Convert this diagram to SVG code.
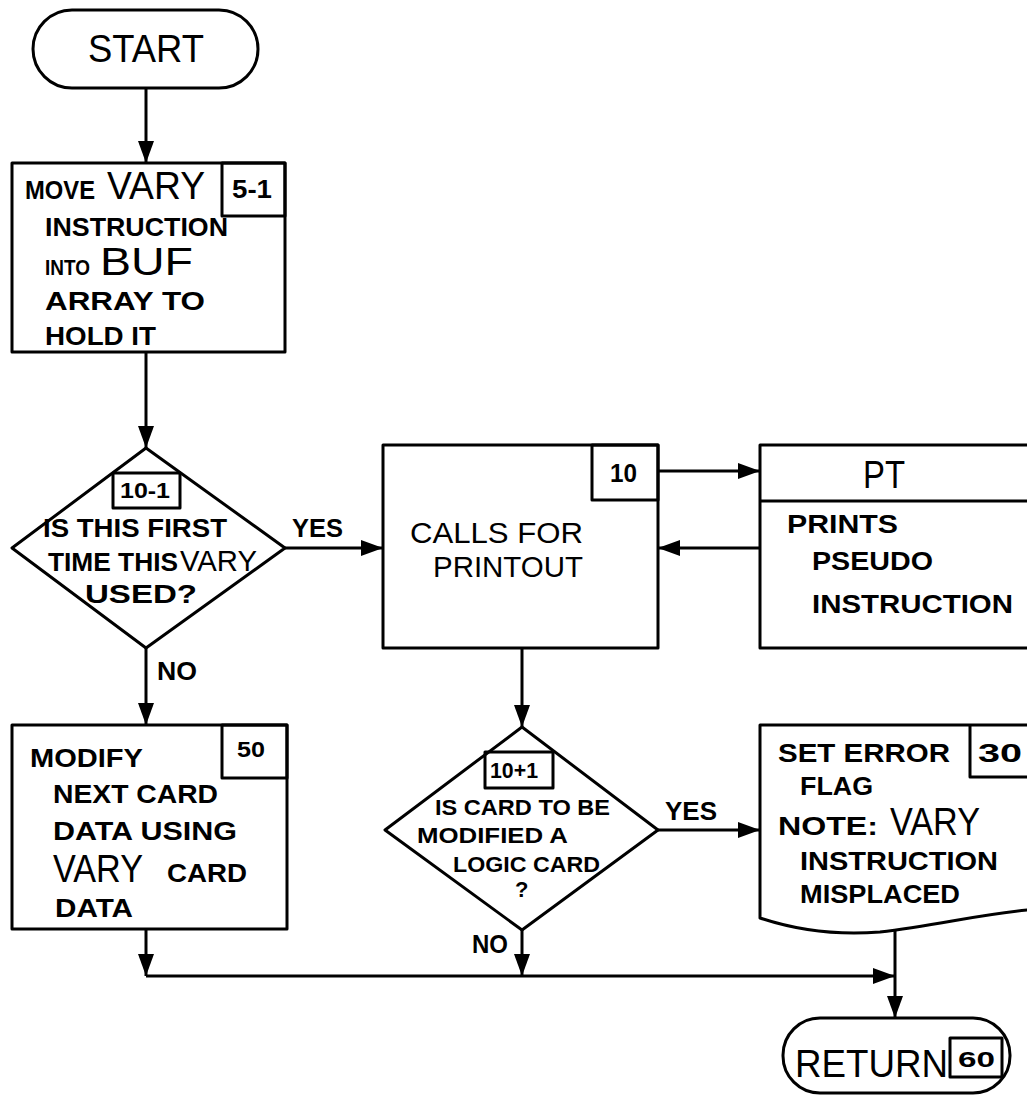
<svg xmlns="http://www.w3.org/2000/svg" width="1027" height="1097" viewBox="0 0 1027 1097">
<defs>
<style>
.s{fill:none;stroke:#000;stroke-width:3;stroke-linejoin:round}
.w{fill:#fff;stroke:#000;stroke-width:3;stroke-linejoin:round}
.c{fill:none;stroke:#000;stroke-width:3}
text{font-family:"Liberation Sans",Arial,sans-serif;fill:#000;font-weight:bold}
.t{font-size:25px}
.sm{font-size:22px}
.lg{font-size:38px;font-weight:normal}
.md{font-size:30px;font-weight:normal}
</style>
<marker id="ah" viewBox="0 0 22 16" refX="22" refY="8" markerWidth="22" markerHeight="16" markerUnits="userSpaceOnUse" orient="auto">
<path d="M0,0 L22,8 L0,16 z" fill="#000"/>
</marker>
</defs>
<rect width="1027" height="1097" fill="#fff"/>

<g id="connectors">
<line class="c" x1="146" y1="88" x2="146" y2="163" marker-end="url(#ah)"/>
<line class="c" x1="146" y1="352" x2="146" y2="448" marker-end="url(#ah)"/>
<line class="c" x1="285" y1="548" x2="383" y2="548" marker-end="url(#ah)"/>
<line class="c" x1="146" y1="648" x2="146" y2="725" marker-end="url(#ah)"/>
<line class="c" x1="658" y1="471" x2="760" y2="471" marker-end="url(#ah)"/>
<line class="c" x1="760" y1="548" x2="658" y2="548" marker-end="url(#ah)"/>
<line class="c" x1="522" y1="648" x2="522" y2="727" marker-end="url(#ah)"/>
<line class="c" x1="658" y1="830" x2="760" y2="830" marker-end="url(#ah)"/>
<line class="c" x1="146" y1="929" x2="146" y2="976" marker-end="url(#ah)"/>
<line class="c" x1="522" y1="930" x2="522" y2="976" marker-end="url(#ah)"/>
<line class="c" x1="146" y1="976" x2="895" y2="976" marker-end="url(#ah)"/>
<line class="c" x1="895" y1="926" x2="895" y2="1018" marker-end="url(#ah)"/>
<text class="t" x="292" y="537" textLength="51" lengthAdjust="spacingAndGlyphs">YES</text>
<text class="t" x="157" y="680" textLength="40" lengthAdjust="spacingAndGlyphs">NO</text>
<text class="t" x="665" y="820" textLength="52" lengthAdjust="spacingAndGlyphs">YES</text>
<text class="t" x="472" y="953" textLength="36" lengthAdjust="spacingAndGlyphs">NO</text>
</g>

<g id="start">
<rect class="w" x="33" y="10" width="225" height="78" rx="39"/>
<text class="lg" x="88" y="62" textLength="116" lengthAdjust="spacingAndGlyphs">START</text>
</g>

<g id="n5-1">
<rect class="w" x="12" y="163" width="273" height="189"/>
<rect class="s" x="222" y="163" width="63" height="53"/>
<text class="t" x="232" y="198" textLength="40" lengthAdjust="spacingAndGlyphs">5-1</text>
<text class="t" x="25" y="199" textLength="70" lengthAdjust="spacingAndGlyphs">MOVE</text>
<text class="lg" x="107" y="199" textLength="98" lengthAdjust="spacingAndGlyphs">VARY</text>
<text class="t" x="45" y="236" textLength="183" lengthAdjust="spacingAndGlyphs">INSTRUCTION</text>
<text class="sm" x="45" y="275" textLength="45" lengthAdjust="spacingAndGlyphs">INTO</text>
<text class="lg" x="100" y="275" textLength="93" lengthAdjust="spacingAndGlyphs">BUF</text>
<text class="t" x="45" y="310" textLength="160" lengthAdjust="spacingAndGlyphs">ARRAY TO</text>
<text class="t" x="45" y="345" textLength="111" lengthAdjust="spacingAndGlyphs">HOLD IT</text>
</g>

<g id="n10-1">
<polygon class="w" points="146,448 285,548 146,648 12,548"/>
<rect class="s" x="113" y="473" width="67" height="35"/>
<text class="sm" x="120" y="498" textLength="50" lengthAdjust="spacingAndGlyphs">10-1</text>
<text class="t" x="43" y="537" textLength="184" lengthAdjust="spacingAndGlyphs">IS THIS FIRST</text>
<text class="t" x="48" y="571" textLength="130" lengthAdjust="spacingAndGlyphs">TIME THIS</text>
<text class="md" x="180" y="571" textLength="77" lengthAdjust="spacingAndGlyphs">VARY</text>
<text class="t" x="85" y="603" textLength="112" lengthAdjust="spacingAndGlyphs">USED?</text>
</g>

<g id="n10">
<rect class="w" x="383" y="445" width="275" height="203"/>
<rect class="s" x="592" y="445" width="66" height="55"/>
<text class="t" x="610" y="482" textLength="27" lengthAdjust="spacingAndGlyphs">10</text>
<text class="md" x="410" y="543" textLength="173" lengthAdjust="spacingAndGlyphs">CALLS FOR</text>
<text class="md" x="433" y="577" textLength="150" lengthAdjust="spacingAndGlyphs">PRINTOUT</text>
</g>

<g id="pt">
<rect class="w" x="760" y="445" width="280" height="203"/>
<line class="c" x1="760" y1="501" x2="1040" y2="501"/>
<text class="lg" x="863" y="488" textLength="42" lengthAdjust="spacingAndGlyphs">PT</text>
<text class="t" x="787" y="533" textLength="111" lengthAdjust="spacingAndGlyphs">PRINTS</text>
<text class="t" x="812" y="570" textLength="121" lengthAdjust="spacingAndGlyphs">PSEUDO</text>
<text class="t" x="812" y="613" textLength="201" lengthAdjust="spacingAndGlyphs">INSTRUCTION</text>
</g>

<g id="n50">
<rect class="w" x="12" y="725" width="275" height="204"/>
<rect class="s" x="222" y="725" width="65" height="53"/>
<text class="sm" x="237" y="757" textLength="28" lengthAdjust="spacingAndGlyphs">50</text>
<text class="t" x="30" y="767" textLength="113" lengthAdjust="spacingAndGlyphs">MODIFY</text>
<text class="t" x="53" y="803" textLength="165" lengthAdjust="spacingAndGlyphs">NEXT CARD</text>
<text class="t" x="53" y="840" textLength="184" lengthAdjust="spacingAndGlyphs">DATA USING</text>
<text class="lg" x="53" y="882" textLength="90" lengthAdjust="spacingAndGlyphs">VARY</text>
<text class="t" x="167" y="882" textLength="80" lengthAdjust="spacingAndGlyphs">CARD</text>
<text class="t" x="55" y="917" textLength="78" lengthAdjust="spacingAndGlyphs">DATA</text>
</g>

<g id="n10p1">
<polygon class="w" points="522,727 658,830 522,930 385,830"/>
<rect class="s" x="485" y="752" width="68" height="36"/>
<text class="sm" x="490" y="778" textLength="48" lengthAdjust="spacingAndGlyphs">10+1</text>
<text class="sm" x="435" y="815" textLength="175" lengthAdjust="spacingAndGlyphs">IS CARD TO BE</text>
<text class="sm" x="417" y="843" textLength="151" lengthAdjust="spacingAndGlyphs">MODIFIED A</text>
<text class="sm" x="453" y="872" textLength="147" lengthAdjust="spacingAndGlyphs">LOGIC CARD</text>
<text class="sm" x="515" y="897" font-size="18">?</text>
</g>

<g id="n30">
<path class="w" d="M760,725 L1040,725 L1040,909 C990,912 940,925 880,932 C830,936 790,928 760,918 Z"/>
<path class="s" d="M1040,777 L970,777 L970,725"/>
<text class="t" x="978" y="762" textLength="44" lengthAdjust="spacingAndGlyphs">30</text>
<text class="t" x="778" y="762" textLength="172" lengthAdjust="spacingAndGlyphs">SET ERROR</text>
<text class="t" x="800" y="795" textLength="73" lengthAdjust="spacingAndGlyphs">FLAG</text>
<text class="t" x="778" y="835" textLength="100" lengthAdjust="spacingAndGlyphs">NOTE:</text>
<text class="lg" x="890" y="835" textLength="90" lengthAdjust="spacingAndGlyphs">VARY</text>
<text class="t" x="800" y="870" textLength="198" lengthAdjust="spacingAndGlyphs">INSTRUCTION</text>
<text class="t" x="800" y="903" textLength="160" lengthAdjust="spacingAndGlyphs">MISPLACED</text>
</g>

<g id="ret">
<rect class="w" x="783" y="1018" width="227" height="75" rx="37"/>
<rect class="s" x="950" y="1038" width="52" height="39"/>
<text class="lg" x="795" y="1077" textLength="153" lengthAdjust="spacingAndGlyphs">RETURN</text>
<text class="sm" x="958" y="1067" textLength="37" lengthAdjust="spacingAndGlyphs">60</text>
</g>
</svg>
